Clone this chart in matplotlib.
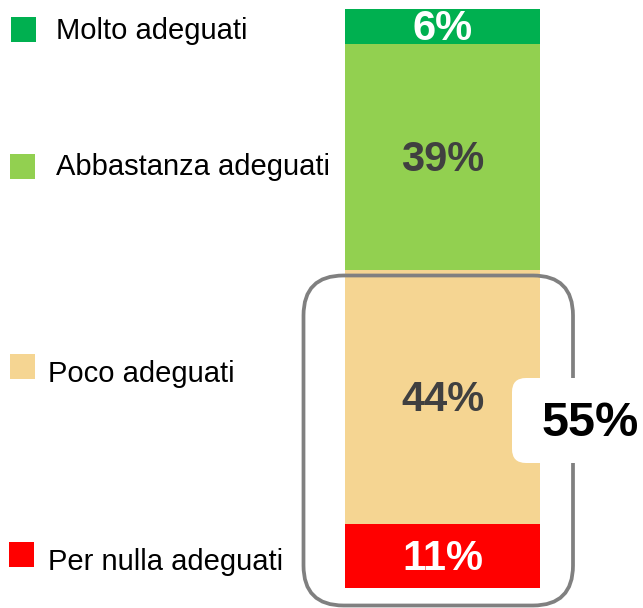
import matplotlib
matplotlib.use("Agg")
import matplotlib.pyplot as plt
from matplotlib.patches import Rectangle, FancyBboxPatch
from matplotlib.transforms import offset_copy

plt.rcParams['font.family'] = ['Liberation Sans', 'DejaVu Sans']

# Data (bottom to top of the stacked bar)
categories = ["Per nulla adeguati", "Poco adeguati", "Abbastanza adeguati", "Molto adeguati"]
values = [11, 44, 39, 6]
colors = ["#FF0000", "#F5D592", "#92D050", "#00B050"]
label_colors = ["white", "#404040", "#404040", "white"]
group_total = values[0] + values[1]

W, H = 643, 608
fig = plt.figure(figsize=(W / 100, H / 100), dpi=100)

# Bar axes positioned on the bar area (pixels: x 345-540, y 9-588)
bx0, bx1, by0, by1 = 345, 540, 9, 588
axb = fig.add_axes([bx0 / W, (H - by1) / H, (bx1 - bx0) / W, (by1 - by0) / H], zorder=1)
axb.set_xlim(-0.5, 0.5)
axb.set_ylim(0, sum(values))
axb.axis("off")

lbl_tr = offset_copy(axb.transData, fig=fig, x=0, y=-3, units="dots")
bottom = 0
for v, c, lc in zip(values, colors, label_colors):
    bars = axb.bar(0, v, width=1.0, bottom=bottom, color=c, edgecolor="none")
    t = axb.text(0, bottom + v / 2, f"{v}%", ha="center", va="center",
                 fontsize=30, fontweight="bold", color=lc, transform=lbl_tr)
    t.set_clip_path(bars[0])
    bottom += v

# Overlay axes in pixel coordinates
ax = fig.add_axes([0, 0, 1, 1], zorder=2)
ax.set_xlim(0, W)
ax.set_ylim(H, 0)
ax.axis("off")
ax.patch.set_alpha(0)

# Rounded group frame around the lower two segments
frame = FancyBboxPatch((303.5, 275.5), 269.5, 330,
                       boxstyle="round,pad=0,rounding_size=40",
                       facecolor="none", edgecolor="#808080", linewidth=2.7)
ax.add_patch(frame)

# White label box
box = FancyBboxPatch((512, 378), 160, 85,
                     boxstyle="round,pad=0,rounding_size=14",
                     facecolor="white", edgecolor="none")
ax.add_patch(box)
ax.text(590, 423, f"{group_total}%", ha="center", va="center",
        fontsize=35, fontweight="bold", color="black")

# Legend (manual, top to bottom)
legend_items = [
    (categories[3], colors[3], 11, 17, 56, 31),
    (categories[2], colors[2], 10, 154, 56, 167),
    (categories[1], colors[1], 10, 354, 48, 374),
    (categories[0], colors[0], 9, 542, 48, 562),
]
for name, col, sx, sy, tx, ty in legend_items:
    ax.add_patch(Rectangle((sx, sy), 25, 25, facecolor=col, edgecolor="none"))
    ax.text(tx, ty, name, ha="left", va="center", fontsize=21, color="black")

fig.savefig("out.png", dpi=100)
